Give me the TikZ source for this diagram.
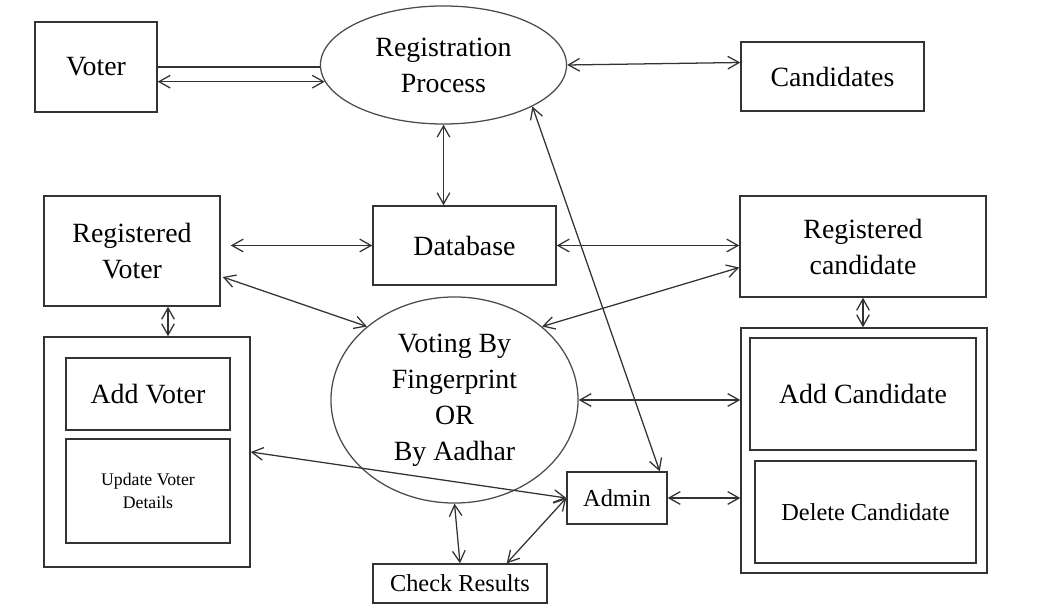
\documentclass[tikz,border=0pt]{standalone}
\usepackage{fontspec}
\setmainfont{Liberation Serif}
\usetikzlibrary{shapes, arrows.meta, positioning, calc}

\begin{document}
\begin{tikzpicture}[
        x=0.025cm, y=-0.025cm,
        box/.style={rectangle, draw=black!80, line width=1pt, inner sep=0pt, align=center, font=\fontsize{19.8}{25.6}\selectfont},
        small box/.style={box, font=\fontsize{17.3}{25}\selectfont},
        oval/.style={ellipse, draw=black!70, line width=0.9pt, inner sep=0pt, align=center, font=\fontsize{19.8}{25.6}\selectfont},
        arrow/.style={<->, >={Straight Barb[length=8pt, width=9pt]}, line width=0.9pt, black!80},
        link/.style={line width=0.9pt, black!80}
    ]
        \useasboundingbox (0,0) rectangle (1054,615);

        % top row
        \node[box, minimum width=3.05cm, minimum height=2.25cm] (voter) at (96,67) {Voter};
        \node[oval, minimum width=6.15cm, minimum height=2.95cm] (regproc) at (443.5,65) {Registration\\Process};
        \node[box, minimum width=4.575cm, minimum height=1.725cm] (cand) at (832.5,76.5) {Candidates};

        % middle row
        \node[box, minimum width=4.4cm, minimum height=2.75cm] (regvoter) at (132,251) {Registered\\Voter};
        \node[box, minimum width=4.575cm, minimum height=1.975cm] (db) at (464.5,245.5) {Database};
        \node[box, minimum width=6.15cm, minimum height=2.525cm] (regcand) at (863,246.5) {Registered\\candidate};

        % voter side
        \node[box, minimum width=5.15cm, minimum height=5.75cm] (voterpanel) at (147,452) {};
        \node[box, minimum width=4.1cm, minimum height=1.8cm] (addvoter) at (148,394) {Add Voter};
        \node[box, minimum width=4.1cm, minimum height=2.6cm, font=\fontsize{12.6}{16.4}\selectfont] (updvoter) at (148,491) {Update Voter\\Details};

        % candidate side
        \node[box, minimum width=6.15cm, minimum height=6.125cm] (candpanel) at (864,450.5) {};
        \node[box, minimum width=5.65cm, minimum height=2.8cm] (addcand) at (863,394) {Add Candidate};
        \node[small box, minimum width=5.525cm, minimum height=2.55cm] (delcand) at (865.5,512) {Delete Candidate};

        % centre
        \node[oval, minimum width=6.175cm, minimum height=5.15cm] (voting) at (454.5,400) {Voting By\\Fingerprint\\OR\\By Aadhar};
        \node[small box, minimum width=2.5cm, minimum height=1.3cm] (admin) at (617,498) {Admin};
        \node[small box, minimum width=4.35cm, minimum height=0.975cm] (check) at (460,583.5) {Check Results};

        \coordinate (rvtap) at ($(regvoter.south)+(36,0)$);

        \draw[link] (voter.east) -- (voter.east -| regproc.west);
        \draw[arrow] (voter.east |- regproc.188) -- (regproc.188);
        \draw[arrow] (regproc.east) -- ($(cand.west)+(0,-14)$);
        \draw[arrow] (regproc.south) -- (regproc.south |- db.north);
        \draw[arrow] ($(regvoter.east |- db.west)+(10,0)$) -- (db.west);
        \draw[arrow] (db.east) -- (db.east -| regcand.west);
        \draw[arrow] ($(regvoter.east)+(2,26)$) -- (voting.140);
        \draw[arrow] ($(regcand.west)+(0,21)$) -- (voting.40);
        \draw[arrow] (regproc.-25) -- ($(admin.north east)+(-8,0)$);
        \draw[arrow] (rvtap) -- (rvtap |- voterpanel.north);
        \draw[arrow] (regcand.south) -- (regcand.south |- candpanel.north);
        \draw[arrow] (voting.east) -- (voting.east -| candpanel.west);
        \draw[arrow] (admin.east) -- (admin.east -| candpanel.west);
        \draw[arrow] (voterpanel.east) -- (admin.west);
        \draw[arrow] (voting.south) -- (check.north);
        \draw[arrow] (admin.west) -- ($(check.north east)+(-41,0)$);
    \end{tikzpicture}
\end{document}
